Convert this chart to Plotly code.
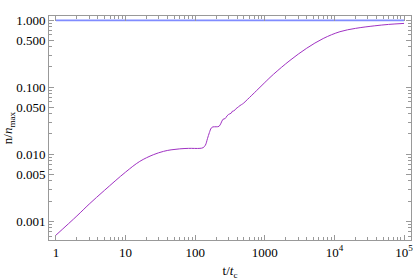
import numpy as np
import plotly.graph_objects as go

# values (log-log plot)
t_ref = [1, 100000]
n_ref = [0.985, 0.985]

t_vals = [1, 2, 3, 5, 10, 16, 25, 35, 45, 60, 80, 117, 130, 140, 150, 160,
          170, 180, 200, 220, 235, 250, 270, 285, 300, 330, 345, 360, 380,
          400, 420, 440, 465, 490, 560, 765, 1000, 1330, 2300, 4000, 6900,
          12000, 20000, 38000, 60000, 100000]
n_vals = [0.00062, 0.0012, 0.0018, 0.0029, 0.0054, 0.0078, 0.0098, 0.0110,
          0.0116, 0.0120, 0.0122, 0.0122, 0.0125, 0.0136, 0.017, 0.021,
          0.0245, 0.0255, 0.0256, 0.0260, 0.029, 0.033, 0.034, 0.037, 0.039,
          0.041, 0.044, 0.044, 0.047, 0.049, 0.051, 0.053, 0.055, 0.057,
          0.065, 0.089, 0.117, 0.155, 0.25, 0.38, 0.53, 0.67, 0.75, 0.82,
          0.86, 0.89]

x_ticks = [1, 10, 100, 1000, 10000, 100000]
x_labels = ["1", "10", "100", "1000", "10<sup>4</sup>", "10<sup>5</sup>"]
y_ticks = [0.001, 0.005, 0.01, 0.05, 0.1, 0.5, 1.0]
y_labels = ["0.001", "0.005", "0.010", "0.050", "0.100", "0.500", "1.000"]

x_minor = [m * 10 ** d for d in range(0, 5) for m in range(2, 10)]
y_minor = [m * 10 ** d for d in range(-4, 1) for m in range(2, 10) if m != 5]

serif = "Liberation Serif, Times New Roman, serif"

fig = go.Figure()
fig.add_trace(go.Scatter(x=t_ref, y=n_ref, mode="lines",
                         line=dict(color="rgb(128,140,255)", width=1.8)))
fig.add_trace(go.Scatter(x=t_vals, y=n_vals, mode="lines", line_shape="spline",
                         line=dict(color="rgb(160,50,195)", width=1.0)))

axis_style = dict(showline=True, linecolor="#999999", linewidth=1, mirror="ticks",
                  ticks="inside", ticklen=5, tickcolor="#999999", showgrid=False,
                  zeroline=False, automargin=False,
                  tickfont=dict(family=serif, size=13, color="black"))

fig.update_xaxes(type="log", range=[-0.1, 5.1], tickvals=x_ticks, ticktext=x_labels,
                 minor=dict(tickvals=x_minor, ticks="inside", ticklen=3, tickcolor="#999999"),
                 title=dict(text="t/<i>t</i><sub>c</sub>", standoff=8,
                            font=dict(family=serif, size=13, color="black")),
                 **axis_style)
fig.update_yaxes(type="log", range=[-3.28, 0.06], tickvals=y_ticks, ticktext=y_labels,
                 minor=dict(tickvals=y_minor, ticks="inside", ticklen=3, tickcolor="#999999"),
                 title=dict(text="n/<i>n</i><sub>max</sub>", standoff=4,
                            font=dict(family=serif, size=13, color="black")),
                 **axis_style)

fig.update_layout(width=415, height=280, margin=dict(l=49, r=4, t=16, b=40),
                  plot_bgcolor="white", paper_bgcolor="white", showlegend=False)

# drop the page's default body margin so the figure sits at the window corner
fig.write_html("out.html", config={"displayModeBar": False},
               post_script="document.body.style.margin='0';")
